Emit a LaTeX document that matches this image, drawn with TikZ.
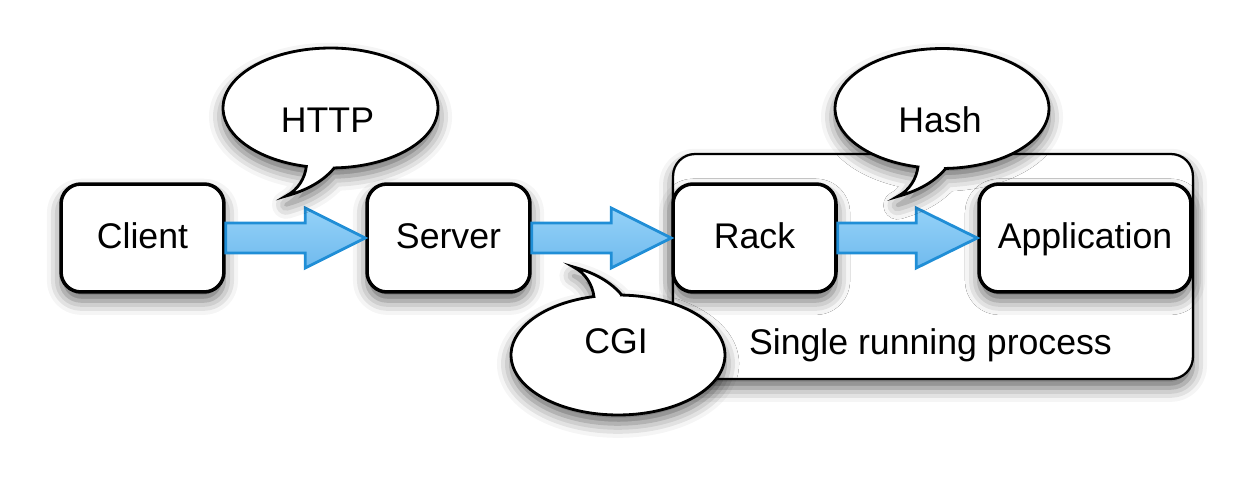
\documentclass[tikz,border=0pt]{standalone}
\usepackage{fontspec}
\setmainfont{Liberation Sans}
\usetikzlibrary{calc,shadows.blur}
\definecolor{arrowline}{RGB}{32,142,214}
\definecolor{arrowtop}{RGB}{148,210,248}
\definecolor{arrowbot}{RGB}{112,186,238}
\tikzset{
  softshadow/.style={blur shadow={shadow xshift=0pt, shadow yshift=-5pt, shadow blur radius=8pt, shadow opacity=60}},
  procbox/.style={draw=black, fill=white, line width=2pt, rounded corners=0.4cm,
    minimum height=2.16cm, inner sep=0pt, text height=11.4pt, text depth=0pt,
    font=\fontsize{20.3}{24}\selectfont, softshadow},
  container/.style={draw=black, fill=white, line width=1.3pt, rounded corners=0.44cm, softshadow},
  bubble/.style={draw=black, fill=white, line width=1.6pt, softshadow},
  label/.style={font=\fontsize{20.3}{24}\selectfont, anchor=base, inner sep=0pt},
  blockarrow/.style={draw=arrowline, line width=1.6pt, top color=arrowtop, bottom color=arrowbot, line join=miter}
}
\begin{document}
\begin{tikzpicture}[x=0.02cm, y=0.02cm]
\useasboundingbox (0,0) rectangle (1251,-486);
% container
\node[container, minimum width=10.4cm, minimum height=4.5cm] (proc) at (933,-266.5) {};
\node[label] (proclabel) at (930.5,-355) {Single running process};
% boxes
\node[procbox, minimum width=3.26cm] (client) at (142.5,-238) {Client};
\node[procbox, minimum width=3.26cm] (server) at (448.5,-238) {Server};
\node[procbox, minimum width=3.26cm] (rack) at (754.5,-238) {Rack};
\node[procbox, minimum width=4.24cm] (app) at (1085,-238) {Application};
% arrows
\path[blockarrow] ($(client.east)+(0,15)$) -- ($(server.west)+(-60,15)$) -- ($(server.west)+(-60,30)$) -- (server.west) -- ($(server.west)+(-60,-30)$) -- ($(server.west)+(-60,-15)$) -- ($(client.east)+(0,-15)$) -- cycle;
\path[blockarrow] ($(server.east)+(0,15)$) -- ($(rack.west)+(-60,15)$) -- ($(rack.west)+(-60,30)$) -- (rack.west) -- ($(rack.west)+(-60,-30)$) -- ($(rack.west)+(-60,-15)$) -- ($(server.east)+(0,-15)$) -- cycle;
\path[blockarrow] ($(rack.east)+(0,15)$) -- ($(app.west)+(-61,15)$) -- ($(app.west)+(-61,30)$) -- (app.west) -- ($(app.west)+(-61,-30)$) -- ($(app.west)+(-61,-15)$) -- ($(rack.east)+(0,-15)$) -- cycle;
% HTTP bubble
\begin{scope}[shift={(330.5,-108)}]
\path[bubble] (272:2.15cm and 1.2cm) arc[start angle=272, end angle=617, x radius=2.15cm, y radius=1.2cm]
  .. controls (-25.5,-70) and (-32.5,-82) .. (-44.5,-88)
  .. controls (-30.5,-84) and (-10.5,-77) .. (3.75,-60) -- cycle;
\end{scope}
\node[label] (http) at (327.5,-133) {HTTP};
% Hash bubble
\begin{scope}[shift={(942,-108.5)}]
\path[bubble] (272:2.14cm and 1.2cm) arc[start angle=272, end angle=617, x radius=2.14cm, y radius=1.2cm]
  .. controls (-25.5,-70) and (-32.5,-82) .. (-44.5,-88)
  .. controls (-30.5,-84) and (-10.5,-77) .. (3.75,-60) -- cycle;
\end{scope}
\node[label] (hash) at (940,-133) {Hash};
% CGI bubble
\begin{scope}[shift={(618,-355)}]
\path[bubble] (88:2.14cm and 1.2cm) arc[start angle=88, end angle=-257, x radius=2.14cm, y radius=1.2cm]
  .. controls (-25.5,70) and (-32.5,82) .. (-44.5,88)
  .. controls (-30.5,84) and (-10.5,77) .. (3.75,60) -- cycle;
\end{scope}
\node[label] (cgi) at (616,-353) {CGI};
\end{tikzpicture}
\end{document}
